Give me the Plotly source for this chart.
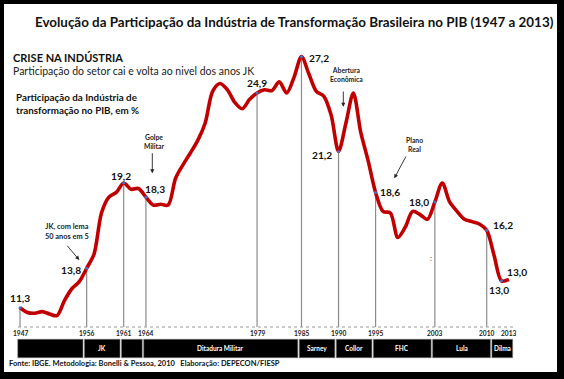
import plotly.graph_objects as go

# ---------------- data ----------------
years = list(range(1947, 2014))
share = [11.3, 11.0, 10.95, 11.05, 10.9, 10.8, 11.75, 12.5, 12.95, 13.8,
         14.7, 17.3, 18.3, 18.6, 19.2, 18.8, 18.85, 18.3, 17.8, 17.85,
         17.8, 19.5, 20.35, 21.1, 21.9, 23.0, 25.0, 25.5, 25.1, 24.3,
         23.9, 24.5, 24.9, 25.1, 25.05, 25.6, 24.9, 25.9, 27.2, 26.1,
         25.0, 24.7, 23.5, 21.2, 23.0, 24.9, 22.4, 20.6, 18.6, 17.4,
         17.3, 15.75, 16.4, 17.4, 17.2, 16.9, 18.0, 19.2, 18.0, 17.4,
         16.9, 16.75, 16.6, 16.2, 14.6, 13.0, 13.1]

marked_years = [1947, 1956, 1961, 1964, 1979, 1985, 1990, 1995, 2003, 2010, 2012, 2013]
marked_labels = ["11,3", "13,8", "19,2", "18,3", "24,9", "27,2", "21,2", "18,6", "18,0", "16,2", "13,0", "13,0"]
dropline_years = [1947, 1956, 1961, 1964, 1979, 1985, 1990, 1995, 2003, 2010]
tick_years = [1947, 1956, 1961, 1964, 1979, 1985, 1990, 1995, 2003, 2010, 2013]

period_names = ["", "JK", "", "Ditadura Militar", "Sarney", "Collor", "FHC", "Lula", "Dilma"]
period_start = [1947, 1956, 1961, 1964, 1985, 1990, 1995, 2003, 2011]
period_end = [1956, 1961, 1964, 1985, 1990, 1995, 2003, 2011, 2014]

# ---------------- layout geometry ----------------
W, H = 564, 379
PX_PER_YEAR = 7.408
X0_PX = 20.0            # pixel of 1947
PX_PER_UNIT = 15.79
Y_REF_PX, Y_REF_VAL = 307.7, 11.3

x_range = [1947 - X0_PX / PX_PER_YEAR, 1947 + (W - X0_PX) / PX_PER_YEAR]
y_range = [Y_REF_VAL - (H - Y_REF_PX) / PX_PER_UNIT, Y_REF_VAL + Y_REF_PX / PX_PER_UNIT]
BASE_PX = 327
base_val = Y_REF_VAL - (BASE_PX - Y_REF_PX) / PX_PER_UNIT


def P(px):
    return px / W


def Q(py):
    return 1 - py / H


FONT = "Lato"
value = dict(zip(years, share))

fig = go.Figure()

# drop lines
dx, dy = [], []
for yr in dropline_years:
    dx += [yr, yr, None]
    dy += [base_val, value[yr], None]
fig.add_trace(go.Scatter(x=dx, y=dy, mode="lines",
                         line=dict(color="#8c8c8c", width=1.2), hoverinfo="skip"))

# main curve
fig.add_trace(go.Scatter(x=years, y=share, mode="lines",
                         line=dict(color="#C00000", width=3.6, shape="spline", smoothing=0.85),
                         hoverinfo="skip"))

# small markers
mk = [y for y in marked_years if y != 2013]
fig.add_trace(go.Scatter(x=mk, y=[value[y] for y in mk], mode="markers",
                         marker=dict(color="#4a6fc9", size=3), hoverinfo="skip"))

annotations = []
shapes = []

# value labels: (xanchor, xshift, yshift)
label_pos = {
    1947: ("center", 0, 9.5),
    1956: ("right", -3.5, -2),
    1961: ("center", -2.7, 7),
    1964: ("left", -2.7, 8),
    1979: ("center", -0.5, 9.5),
    1985: ("left", 5, -1),
    1990: ("right", -4.3, -4),
    1995: ("left", 2.6, 0),
    2003: ("right", -3.6, 0),
    2010: ("left", 4, 5.7),
    2012: ("center", -2.7, -9.5),
    2013: ("left", -4, 7.6),
}
for yr, txt in zip(marked_years, marked_labels):
    xa, xs, ys = label_pos[yr]
    annotations.append(dict(x=yr, y=value[yr], xref="x", yref="y", text=f"<b>{txt}</b>",
                            showarrow=False, xanchor=xa, yanchor="middle", xshift=xs, yshift=ys,
                            font=dict(family=FONT, size=10.2, color="#111")))

# tick labels
for yr in tick_years:
    annotations.append(dict(x=yr, y=Q(333), xref="x", yref="paper", text=f"<b>{yr}</b>",
                            showarrow=False, xanchor="center", yanchor="middle",
                            font=dict(family=FONT, size=6.6, color="#222")))

# baseline (dotted)
shapes.append(dict(type="line", xref="paper", yref="paper", x0=P(18), x1=P(513),
                   y0=Q(BASE_PX), y1=Q(BASE_PX), line=dict(color="#9a9a9a", width=1, dash="dot")))

# period bars
for name, s, e in zip(period_names, period_start, period_end):
    shapes.append(dict(type="rect", xref="x", yref="paper", x0=s - 0.3, x1=e - 0.5,
                       y0=Q(357.7), y1=Q(339.3), fillcolor="black",
                       line=dict(color="#777", width=0.6)))
    if name:
        annotations.append(dict(x=(s - 0.3 + e - 0.5) / 2, y=Q(348.5), xref="x", yref="paper",
                                text=f"<b>{name}</b>", showarrow=False, xanchor="center",
                                yanchor="middle", font=dict(family=FONT, size=6.5, color="white")))

# title & texts
annotations += [
    dict(x=P(294), y=Q(22), xref="paper", yref="paper", showarrow=False, xanchor="center",
         yanchor="middle", text="<b>Evolução da Participação da Indústria de Transformação Brasileira no PIB (1947 a 2013)</b>",
         font=dict(family=FONT, size=13.4, color="#111")),
    dict(x=P(11), y=Q(57), xref="paper", yref="paper", showarrow=False, xanchor="left",
         yanchor="middle", text="<b>CRISE NA INDÚSTRIA</b>", font=dict(family=FONT, size=11, color="#111")),
    dict(x=P(11), y=Q(71), xref="paper", yref="paper", showarrow=False, xanchor="left",
         yanchor="middle", text="Participação do setor cai e volta ao nivel dos anos JK",
         font=dict(family=FONT, size=10.5, color="#222")),
    dict(x=P(14), y=Q(103.5), xref="paper", yref="paper", showarrow=False, xanchor="left",
         yanchor="middle", align="left",
         text="<b>Participação da Indústria de<br>transformação no PIB, em %</b>",
         font=dict(family=FONT, size=9.8, color="#111")),
    dict(x=P(7), y=Q(363.5), xref="paper", yref="paper", showarrow=False, xanchor="left",
         yanchor="middle",
         text="<b>Fonte: IBGE. Metodologia: Bonelli &amp; Pessoa, 2010   Elaboração: DEPECON/FIESP</b>",
         font=dict(family=FONT, size=7.5, color="#111")),
    dict(x=P(431), y=Q(258), xref="paper", yref="paper", showarrow=False, xanchor="center",
         yanchor="middle", text=":", font=dict(family=FONT, size=7, color="#333")),
]

# event notes with arrows: (text, text center px, arrow tail px, arrow head px, size)
notes = [
    ("Golpe<br>Militar", (154, 141.5), (152.3, 151.7), (152.3, 173.3), 6.8),
    ("JK, com lema<br>50 anos em 5", (66.7, 231.3), (66, 244.3), (79.3, 260), 7.4),
    ("Abertura<br>Econômica", (346.7, 74.5), (343.3, 90), (343.3, 106.7), 6.8),
    ("Plano<br>Real", (414, 144.5), (406.7, 155), (394.3, 178.3), 6.8),
]
for txt, (tx, ty), (ax_, ay_), (hx, hy), fs in notes:
    annotations.append(dict(x=P(tx), y=Q(ty), xref="paper", yref="paper", showarrow=False,
                            xanchor="center", yanchor="middle", text=f"<b>{txt}</b>",
                            font=dict(family=FONT, size=fs, color="#222")))
    annotations.append(dict(x=P(hx), y=Q(hy), xref="paper", yref="paper", text="",
                            showarrow=True, ax=ax_ - hx, ay=ay_ - hy, arrowhead=2,
                            arrowsize=0.9, arrowwidth=0.9, arrowcolor="#222"))

# black frame
for x0, x1, y0, y1 in [(0, 4, 0, H), (557, W, 0, H), (0, W, 0, 4), (0, W, 372, H)]:
    shapes.append(dict(type="rect", xref="paper", yref="paper", x0=P(x0), x1=P(x1),
                       y0=Q(y1), y1=Q(y0), fillcolor="black", line=dict(width=0), layer="above"))

fig.update_layout(
    width=W, height=H, margin=dict(l=0, r=0, t=0, b=0),
    paper_bgcolor="white", plot_bgcolor="white", showlegend=False,
    xaxis=dict(range=x_range, visible=False, fixedrange=True),
    yaxis=dict(range=y_range, visible=False, fixedrange=True),
    annotations=annotations, shapes=shapes,
)

fig.write_html("out.html", config={"displayModeBar": False},
               post_script="document.body.style.margin='0';document.body.style.overflow='hidden';")
